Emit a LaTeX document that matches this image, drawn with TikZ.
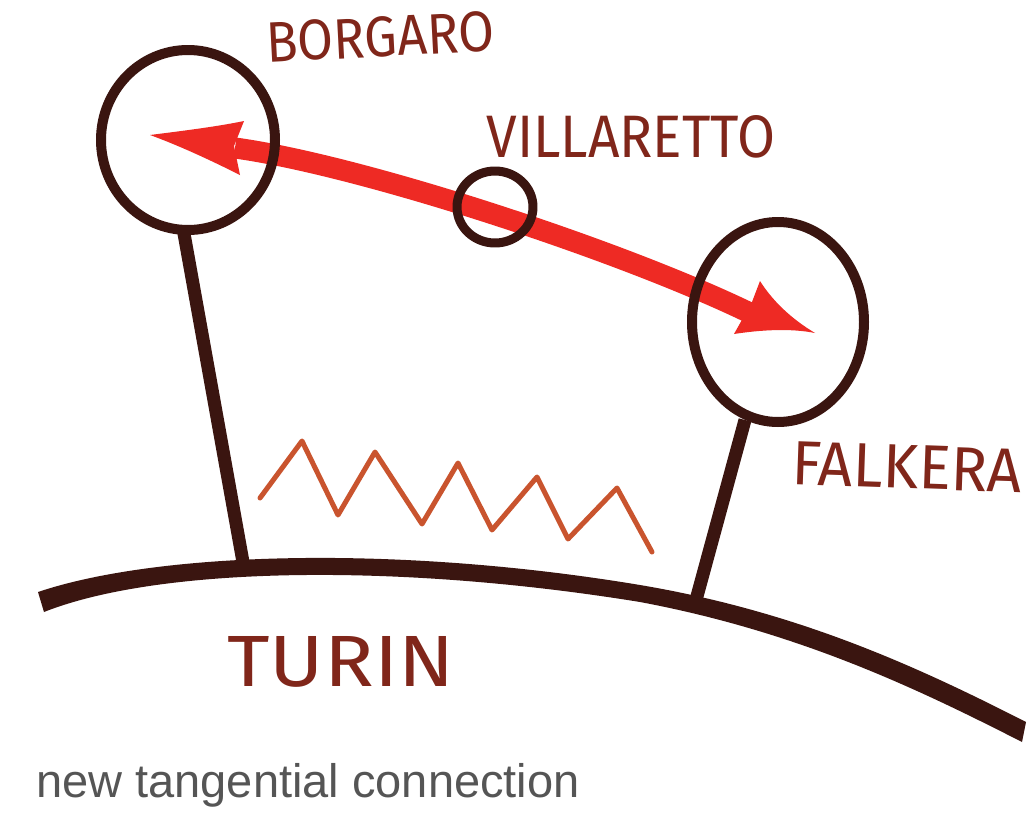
\documentclass[tikz,border=0pt]{standalone}
\usepackage{fontspec}
\usepackage{graphicx}
\setmainfont{Liberation Sans}
\newfontfamily\hand{Fira Sans}
\definecolor{ink}{HTML}{3A1510}
\definecolor{lab}{HTML}{80261A}
\definecolor{arr}{HTML}{EE2A24}
\definecolor{zig}{HTML}{C9542E}
\definecolor{capgray}{HTML}{555555}
\begin{document}
\begin{tikzpicture}[x=1pt,y=-1pt,line cap=round,line join=round,
  ring/.style={draw=ink,line width=10pt},
  stembar/.style={draw=ink,line width=13pt,line cap=butt},
  lbl/.style={text=lab,inner sep=0pt},
  redfill/.style={fill=arr,draw=none},
  zigline/.style={draw=zig,line width=5pt}]
\useasboundingbox (0,0) rectangle (1034,827);
\fill[white] (0,0) rectangle (1034,827);

% stems
\coordinate (bstemtop) at (183,228);
\coordinate (bstemfoot) at (243,562);
\coordinate (fstemtop) at (745,420);
\coordinate (fstemfoot) at (696,600);
\draw[stembar] (bstemtop) -- (bstemfoot);
\draw[stembar] (fstemtop) -- (fstemfoot);

% Turin ground line
\fill[ink] (38,592) .. controls (160,551) and (400,545) .. (640,585)
  .. controls (800,612) and (920,668) .. (1026,722)
  -- (1022,742)
  .. controls (920,690) and (800,632) .. (640,602)
  .. controls (400,563) and (160,566) .. (44,612) -- cycle;

% zigzag
\draw[zigline] (260,498) -- (302,441) -- (338,515) -- (375,452) -- (422,524)
  -- (458,463) -- (492,530) -- (537,477) -- (568,539) -- (617,488) -- (652,552);

% red double arrow
\coordinate (ashaftL) at (235,148);
\coordinate (ashaftR) at (750,313);
\draw[arr,line width=21pt,line cap=butt] (ashaftL) .. controls (360,165) and (620,250) .. (ashaftR);
\fill[redfill] (150,135) .. controls (190,130) and (220,126) .. (244,121)
  -- (234,146) -- (240,175) .. controls (210,160) and (180,146) .. (150,135) -- cycle;
\fill[redfill] (815,333) .. controls (790,318) and (772,300) .. (760,281)
  -- (752,302) -- (734,334) .. controls (760,330) and (790,328) .. (815,333) -- cycle;

% rings
\draw[ring] (188,140) ellipse [x radius=87,y radius=90];
\draw[ring,line width=9pt] (495,207) ellipse [x radius=38,y radius=36];
\draw[ring] (778,322) ellipse [x radius=86,y radius=100];

% labels
\node[lbl,rotate=3] (borgaro) at (380,37) {\resizebox{228pt}{40pt}{\hand\mdseries BORGARO}};
\node[lbl] (villaretto) at (631,137) {\resizebox{289pt}{42pt}{\hand\mdseries VILLARETTO}};
\node[lbl,rotate=-2] (falkera) at (907,467) {\resizebox{230pt}{43pt}{\hand\mdseries FALKERA}};
\node[lbl] (turin) at (341,662) {\resizebox{227pt}{50pt}{\hand\mdseries TURIN}};
\node[anchor=base west,inner sep=0pt,text=capgray,font=\fontsize{47}{47}\selectfont] (caption) at (36,797) {new tangential connection};
\end{tikzpicture}
\end{document}
